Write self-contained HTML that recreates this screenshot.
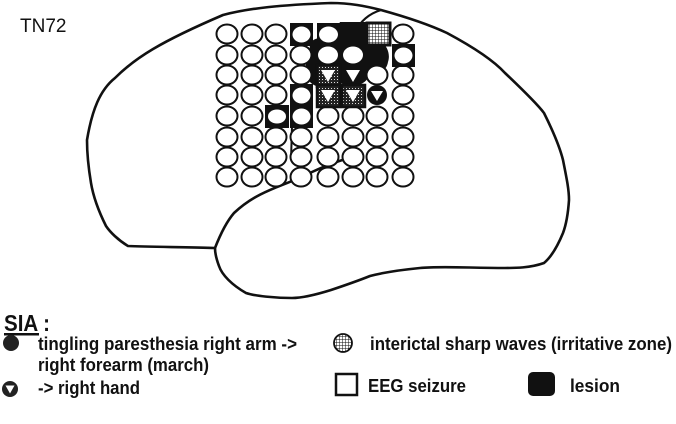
<!DOCTYPE html>
<html><head><meta charset="utf-8"><style>
html,body{margin:0;padding:0;background:#fff;}
svg{display:block;}
text{font-family:"Liberation Sans",Arial,sans-serif;fill:#111;}
</style></head><body>
<svg width="676" height="424" viewBox="0 0 676 424" xmlns="http://www.w3.org/2000/svg">
<defs>
<pattern id="grid" width="3" height="3" patternUnits="userSpaceOnUse">
<rect width="3" height="3" fill="#fff"/><path d="M0 0H3M0 0V3" stroke="#111" stroke-width="1"/>
</pattern>
<pattern id="dots" width="3" height="3" patternUnits="userSpaceOnUse">
<rect width="3" height="3" fill="#222"/><rect x="1" y="1" width="1" height="1" fill="#ddd"/>
</pattern>
</defs>
<text x="20" y="32" font-size="19">TN72</text>
<path d="M87,140 C92,110 100,90 115,78 C135,58 160,42 223,15 C250,8 280,5 331,3 C350,3 365,6 381,10 C410,18 430,25 447,33 C475,48 495,62 505,73 C525,92 538,105 544,113 C555,135 560,148 563,160 C567,180 569,190 569,200 C568,215 566,225 563,233 C556,250 550,258 544,263 C530,268 515,268 505,268 C470,268 440,266 420,268 C400,270 385,272 370,276 C355,282 340,287 331,290 C315,295 300,298 292,298 C275,298 255,296 246,293 C232,285 222,275 219,266 C216,258 215,252 215,248 C190,247 150,247 128,246 C118,240 110,232 106,226 C98,210 93,195 91,183 C88,165 87,150 87,140 Z" fill="none" stroke="#111" stroke-width="2.6"/>
<path d="M215,248 C222,230 228,220 234,213 C250,198 265,192 277,187 C290,182 300,178 312,172 C325,166 335,162 346,159 L356,157" fill="none" stroke="#111" stroke-width="2.6"/>
<path d="M292,126 L291,160" fill="none" stroke="#111" stroke-width="2"/>
<path d="M381,10 C368,14 360,22 355,32" fill="none" stroke="#111" stroke-width="2.2"/>
<path d="M312,88 L306,98 L300,118" fill="none" stroke="#111" stroke-width="2"/>
<path d="M310,50 C308,38 320,36 330,40 L340,22 L366,22 L366,38 C382,36 392,50 388,62 C386,74 374,74 368,78 C362,88 345,88 340,82 C330,88 316,89 310,82 C304,70 305,60 310,50 Z" fill="#111"/>
<g fill="#fff" stroke="#111" stroke-width="2">
<ellipse cx="227" cy="34" rx="10.5" ry="9.5"/><ellipse cx="252" cy="34" rx="10.5" ry="9.5"/><ellipse cx="276" cy="34" rx="10.5" ry="9.5"/><ellipse cx="403" cy="34" rx="10.5" ry="9.5"/>
<ellipse cx="227" cy="55" rx="10.5" ry="9.5"/><ellipse cx="252" cy="55" rx="10.5" ry="9.5"/><ellipse cx="276" cy="55" rx="10.5" ry="9.5"/><ellipse cx="301" cy="55" rx="10.5" ry="9.5"/>
<ellipse cx="227" cy="75" rx="10.5" ry="9.5"/><ellipse cx="252" cy="75" rx="10.5" ry="9.5"/><ellipse cx="276" cy="75" rx="10.5" ry="9.5"/><ellipse cx="301" cy="75" rx="10.5" ry="9.5"/><ellipse cx="377" cy="75" rx="10.5" ry="9.5"/><ellipse cx="403" cy="75" rx="10.5" ry="9.5"/>
<ellipse cx="227" cy="95" rx="10.5" ry="9.5"/><ellipse cx="252" cy="95" rx="10.5" ry="9.5"/><ellipse cx="276" cy="95" rx="10.5" ry="9.5"/><ellipse cx="403" cy="95" rx="10.5" ry="9.5"/>
<ellipse cx="227" cy="116" rx="10.5" ry="9.5"/><ellipse cx="252" cy="116" rx="10.5" ry="9.5"/><ellipse cx="328" cy="116" rx="10.5" ry="9.5"/><ellipse cx="353" cy="116" rx="10.5" ry="9.5"/><ellipse cx="377" cy="116" rx="10.5" ry="9.5"/><ellipse cx="403" cy="116" rx="10.5" ry="9.5"/>
<ellipse cx="227" cy="137" rx="10.5" ry="9.5"/><ellipse cx="252" cy="137" rx="10.5" ry="9.5"/><ellipse cx="276" cy="137" rx="10.5" ry="9.5"/><ellipse cx="301" cy="137" rx="10.5" ry="9.5"/><ellipse cx="328" cy="137" rx="10.5" ry="9.5"/><ellipse cx="353" cy="137" rx="10.5" ry="9.5"/><ellipse cx="377" cy="137" rx="10.5" ry="9.5"/><ellipse cx="403" cy="137" rx="10.5" ry="9.5"/>
<ellipse cx="227" cy="157" rx="10.5" ry="9.5"/><ellipse cx="252" cy="157" rx="10.5" ry="9.5"/><ellipse cx="276" cy="157" rx="10.5" ry="9.5"/><ellipse cx="301" cy="157" rx="10.5" ry="9.5"/><ellipse cx="328" cy="157" rx="10.5" ry="9.5"/><ellipse cx="353" cy="157" rx="10.5" ry="9.5"/><ellipse cx="377" cy="157" rx="10.5" ry="9.5"/><ellipse cx="403" cy="157" rx="10.5" ry="9.5"/>
<ellipse cx="227" cy="177" rx="10.5" ry="9.5"/><ellipse cx="252" cy="177" rx="10.5" ry="9.5"/><ellipse cx="276" cy="177" rx="10.5" ry="9.5"/><ellipse cx="301" cy="177" rx="10.5" ry="9.5"/><ellipse cx="328" cy="177" rx="10.5" ry="9.5"/><ellipse cx="353" cy="177" rx="10.5" ry="9.5"/><ellipse cx="377" cy="177" rx="10.5" ry="9.5"/><ellipse cx="403" cy="177" rx="10.5" ry="9.5"/>
</g>
<g fill="#111">
<rect x="290" y="23" width="23" height="23"/>
<rect x="317" y="23" width="23" height="23"/>
<rect x="342" y="23" width="23" height="23"/>
<rect x="392" y="44" width="23" height="23"/>
<rect x="290" y="84" width="23" height="23"/>
<rect x="265" y="105" width="24" height="23"/>
<rect x="290" y="105" width="23" height="23"/>
</g>
<rect x="367" y="23" width="23" height="22" fill="url(#grid)" stroke="#111" stroke-width="3"/>
<g fill="url(#dots)" stroke="#111" stroke-width="2.5">
<rect x="317" y="65" width="23" height="22"/>
<rect x="317" y="85" width="23" height="22"/>
<rect x="342" y="85" width="23" height="22"/>
</g>
<g fill="#fff" stroke="none">
<ellipse cx="301.5" cy="34.5" rx="9" ry="8"/>
<ellipse cx="328.5" cy="34.5" rx="9.5" ry="8"/>
<ellipse cx="403.5" cy="55.5" rx="9" ry="8"/>
<ellipse cx="301.5" cy="95.5" rx="9" ry="8"/>
<ellipse cx="277" cy="116.5" rx="9" ry="7"/>
<ellipse cx="301.5" cy="116.5" rx="9" ry="8"/>
<ellipse cx="328" cy="55" rx="10" ry="8.5"/>
<ellipse cx="353" cy="55" rx="10" ry="8.5"/>
<polygon points="321,70 335,70 328,82"/>
<polygon points="346,70 360,70 353,82"/>
<polygon points="321,90 335,90 328,102"/>
<polygon points="346,90 360,90 353,102"/>
</g>
<circle cx="377" cy="95" r="10" fill="#111"/>
<polygon points="371,91 383,91 377,101" fill="#fff"/>
<text x="4" y="331" font-size="23" font-weight="bold" textLength="46" lengthAdjust="spacingAndGlyphs">SIA :</text>
<rect x="4" y="333" width="35" height="2.5" fill="#111"/>
<circle cx="11" cy="343" r="8" fill="#222"/>
<text x="38" y="350" font-size="18" font-weight="bold" textLength="259" lengthAdjust="spacingAndGlyphs">tingling paresthesia right arm -&gt;</text>
<text x="38" y="371" font-size="18" font-weight="bold" textLength="171" lengthAdjust="spacingAndGlyphs">right forearm (march)</text>
<circle cx="10" cy="389" r="8" fill="#222"/>
<polygon points="5.5,385.5 14.5,385.5 10,393.5" fill="#fff"/>
<text x="38" y="394" font-size="18" font-weight="bold" textLength="102" lengthAdjust="spacingAndGlyphs">-&gt; right hand</text>
<circle cx="343" cy="343" r="9" fill="url(#grid)" stroke="#111" stroke-width="1.8"/>
<text x="370" y="350" font-size="18" font-weight="bold" textLength="302" lengthAdjust="spacingAndGlyphs">interictal sharp waves (irritative zone)</text>
<rect x="336" y="374" width="21" height="21" fill="#fff" stroke="#111" stroke-width="2.5"/>
<text x="368" y="392" font-size="18" font-weight="bold" textLength="98" lengthAdjust="spacingAndGlyphs">EEG seizure</text>
<rect x="528" y="372" width="27" height="24" rx="5" fill="#111"/>
<text x="570" y="392" font-size="18" font-weight="bold" textLength="50" lengthAdjust="spacingAndGlyphs">lesion</text>
</svg>
</body></html>
